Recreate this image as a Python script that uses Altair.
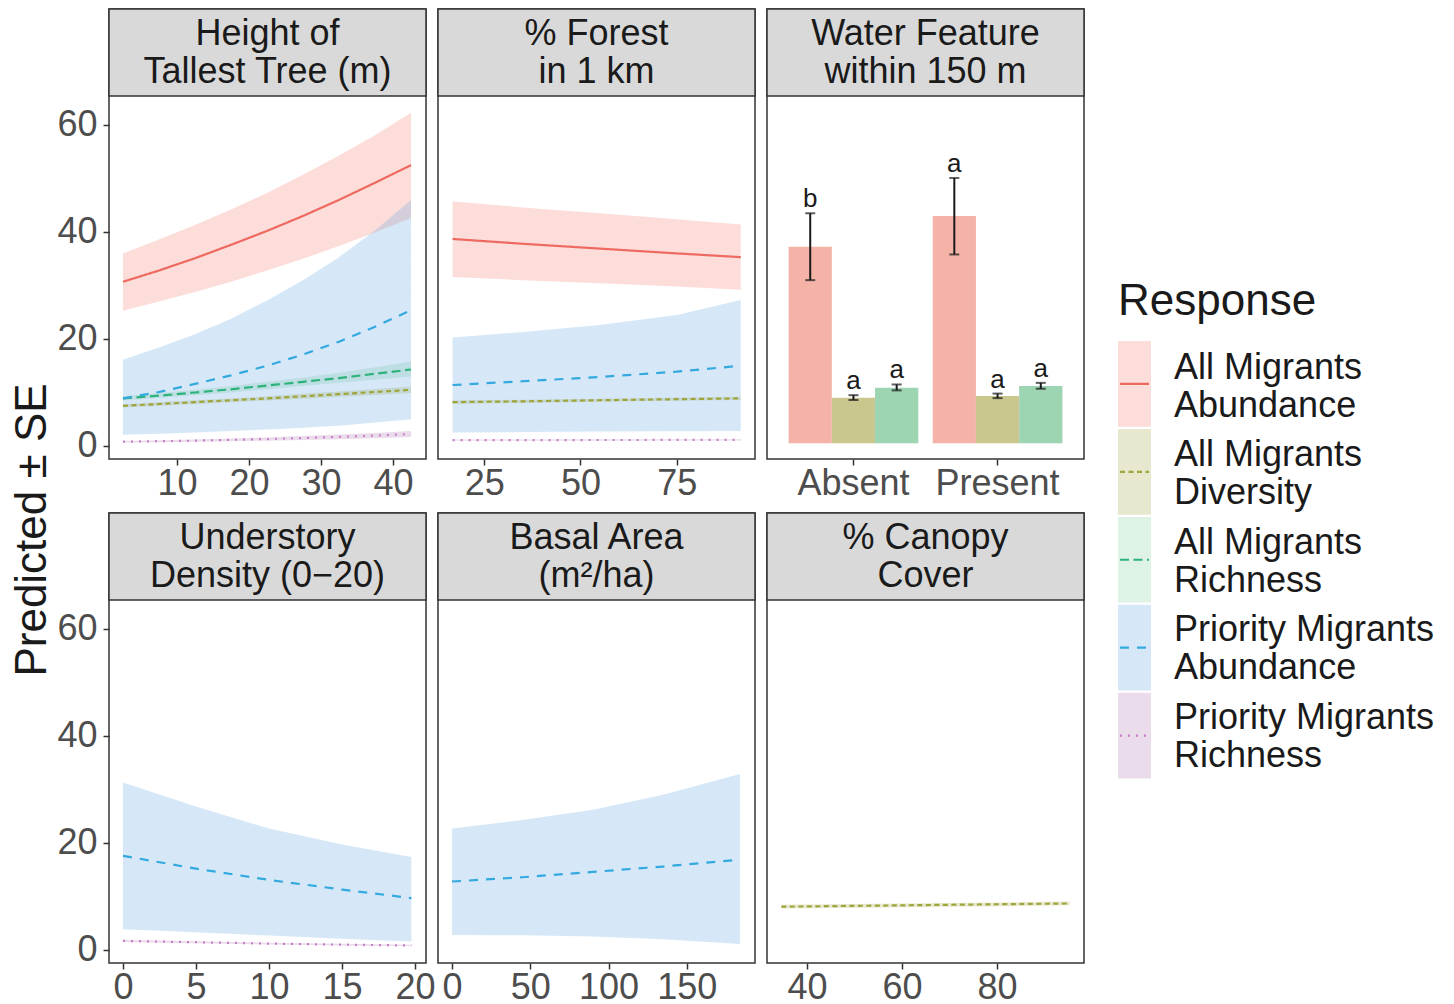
import altair as alt
import pandas as pd

FONT = "Liberation Sans"

SERIES = ["All Migrants Abundance", "All Migrants Diversity", "All Migrants Richness",
          "Priority Migrants Abundance", "Priority Migrants Richness"]
SERIES_LABELS = ["All Migrants\nAbundance", "All Migrants\nDiversity", "All Migrants\nRichness",
                 "Priority Migrants\nAbundance", "Priority Migrants\nRichness"]
LINE_COLORS = ["#EE6A60", "#9FA53A", "#2DB27B", "#33A9DF", "#C97DC8"]
RIBBON_COLORS = ["#F3776A", "#A3A33F", "#7BCB97", "#5BA3DF", "#AF73AF"]
DASHES = [[1, 0], [5, 3.5], [9, 4.5], [9, 8], [2, 6]]
BAR_COLORS = ["#F5B3A7", "#C9C78D", "#9DD4B2"]

PANEL_TITLES = ["Height of\nTallest Tree (m)", "% Forest\nin 1 km", "Water Feature\nwithin 150 m",
                "Understory\nDensity (0\u221220)", "Basal Area\n(m\u00b2/ha)", "% Canopy\nCover"]
Y_TITLE = "Predicted \u00b1 SE"
LEGEND_TITLE = "Response"

Y_DOMAIN = [-2.43, 65.42]
Y_TICKS = [0, 20, 40, 60]

# ---- Panel 1: Height of tallest tree ----
tree_x = [2.5, 7.5, 12.5, 17.5, 22.5, 27.5, 32.5, 37.5, 42.5]
tree_aa_fit = [30.7, 32.8, 35.1, 37.6, 40.2, 43.0, 46.0, 49.2, 52.5]
tree_aa_lo = [25.3, 27.0, 28.8, 30.7, 32.8, 35.0, 37.4, 39.9, 42.6]
tree_aa_hi = [36.0, 38.6, 41.3, 44.2, 47.3, 50.7, 54.3, 58.1, 62.3]
tree_ad_fit = [7.5, 7.85, 8.2, 8.55, 8.9, 9.3, 9.7, 10.1, 10.5]
tree_ad_lo = [7.2, 7.5, 7.85, 8.2, 8.5, 8.85, 9.2, 9.55, 9.9]
tree_ad_hi = [7.8, 8.2, 8.55, 8.9, 9.3, 9.75, 10.2, 10.65, 11.1]
tree_ar_fit = [8.9, 9.4, 10.0, 10.6, 11.3, 12.0, 12.7, 13.5, 14.3]
tree_ar_lo = [8.5, 9.0, 9.5, 10.0, 10.6, 11.2, 11.8, 12.4, 13.0]
tree_ar_hi = [9.3, 9.9, 10.5, 11.2, 12.0, 12.8, 13.7, 14.7, 15.8]
tree_pa_fit = [8.9, 10.1, 11.6, 13.2, 15.0, 17.1, 19.5, 22.3, 25.4]
tree_pa_lo = [2.1, 2.3, 2.5, 2.8, 3.1, 3.4, 3.8, 4.4, 5.0]
tree_pa_hi = [16.1, 18.4, 20.9, 23.8, 27.2, 31.0, 35.3, 40.3, 46.0]
tree_pr_fit = [0.8, 0.9, 1.0, 1.15, 1.3, 1.5, 1.7, 1.95, 2.25]
tree_pr_lo = [0.65, 0.72, 0.8, 0.9, 1.0, 1.12, 1.26, 1.45, 1.7]
tree_pr_hi = [0.95, 1.08, 1.2, 1.4, 1.6, 1.88, 2.15, 2.45, 2.8]

# ---- Panel 2: % forest in 1 km ----
forest_x = [16.8, 35, 55, 75, 91.6]
forest_aa_fit = [38.7, 37.8, 36.9, 36.0, 35.3]
forest_aa_lo = [31.6, 31.0, 30.4, 29.8, 29.2]
forest_aa_hi = [45.7, 44.6, 43.5, 42.4, 41.4]
forest_ad_fit = [8.2, 8.35, 8.55, 8.75, 8.9]
forest_ad_lo = [7.9, 8.05, 8.25, 8.45, 8.6]
forest_ad_hi = [8.5, 8.65, 8.85, 9.05, 9.2]
forest_pa_fit = [11.4, 12.1, 12.9, 13.9, 15.0]
forest_pa_lo = [2.5, 2.6, 2.7, 2.75, 2.8]
forest_pa_hi = [20.3, 21.3, 22.6, 24.5, 27.3]
forest_pr_fit = [1.1, 1.1, 1.12, 1.13, 1.15]
forest_pr_lo = [0.98, 0.98, 1.0, 1.01, 1.03]
forest_pr_hi = [1.22, 1.22, 1.24, 1.25, 1.27]

# ---- Panel 3: water feature (bars) ----
water_levels = ["Absent", "Present"]
water_aa_mean = [37.25, 43.0]
water_aa_lo = [31.0, 35.8]
water_aa_hi = [43.5, 50.1]
water_aa_letter = ["b", "a"]
water_ad_mean = [9.03, 9.35]
water_ad_lo = [8.6, 8.95]
water_ad_hi = [9.5, 9.8]
water_ad_letter = ["a", "a"]
water_ar_mean = [10.9, 11.2]
water_ar_lo = [10.4, 10.7]
water_ar_hi = [11.5, 11.8]
water_ar_letter = ["a", "a"]
bar_base = 0.5

# ---- Panel 4: understory density ----
under_x = [0, 5, 10, 15, 19.75]
under_pa_fit = [17.6, 15.2, 13.1, 11.3, 9.7]
under_pa_lo = [3.9, 3.3, 2.7, 2.1, 1.6]
under_pa_hi = [31.3, 26.8, 22.7, 19.7, 17.4]
under_pr_fit = [1.7, 1.45, 1.2, 1.0, 0.85]
under_pr_lo = [1.5, 1.28, 1.05, 0.85, 0.7]
under_pr_hi = [1.9, 1.62, 1.35, 1.15, 1.0]

# ---- Panel 5: basal area ----
basal_x = [0, 45, 90, 135, 184]
basal_pa_fit = [12.8, 13.6, 14.6, 15.6, 16.9]
basal_pa_lo = [2.8, 2.75, 2.5, 2.0, 1.1]
basal_pa_hi = [22.7, 24.3, 26.2, 29.0, 32.9]

# ---- Panel 6: % canopy cover ----
canopy_x = [34.6, 50, 65, 80, 95.3]
canopy_ad_fit = [8.1, 8.25, 8.4, 8.55, 8.7]
canopy_ad_lo = [7.75, 7.9, 8.05, 8.2, 8.35]
canopy_ad_hi = [8.45, 8.6, 8.75, 8.9, 9.05]

PANEL_W = 317
HEADER_H = 87
PLOT_H = 363
FULL_H = HEADER_H + PLOT_H
TICK_FONT = 36
LINE_H = 38


def long_df(x, parts):
    rows = []
    for name, fit, lo, hi in parts:
        for xi, f, l, h in zip(x, fit, lo, hi):
            rows.append({"x": xi, "series": name, "fit": f, "lo": l, "hi": h})
    return pd.DataFrame(rows)


# y data scale occupies the area under the strip header
yscale = alt.Scale(domain=Y_DOMAIN, nice=False, zero=False, range=[FULL_H, HEADER_H])


def y_axis(show):
    if show:
        return alt.Axis(values=Y_TICKS, title=None, labelPadding=6)
    return None


def header_layers(title):
    hdf = pd.DataFrame({"t": [title]})
    box = alt.Chart(hdf).mark_rect(fill="#D9D9D9", stroke="#333333", strokeWidth=1.5).encode(
        x=alt.value(0), x2=alt.value(PANEL_W), y=alt.value(0), y2=alt.value(HEADER_H))
    txt = alt.Chart(hdf).mark_text(
        font=FONT, fontSize=36, lineBreak="\n", lineHeight=LINE_H, color="#1A1A1A",
        align="center", baseline="middle"
    ).encode(x=alt.value(PANEL_W / 2), y=alt.value(HEADER_H / 2 - 19), text="t:N")
    return [box, txt]


def line_panel(df, title, xdomain, xticks, show_y, extra=None):
    xenc = alt.X("x:Q", scale=alt.Scale(domain=xdomain, nice=False, zero=False),
                 axis=alt.Axis(values=xticks, title=None, labelPadding=1, labelFlush=False))
    ribbon = alt.Chart(df).mark_area(opacity=0.25).encode(
        x=xenc,
        y=alt.Y("lo:Q", scale=yscale, axis=y_axis(show_y), stack=False),
        y2="hi:Q",
        fill=alt.Fill("series:N", scale=alt.Scale(domain=SERIES, range=RIBBON_COLORS), legend=None),
    )
    line = alt.Chart(df).mark_line(strokeWidth=2.2).encode(
        x=xenc,
        y=alt.Y("fit:Q", scale=yscale),
        color=alt.Color("series:N", scale=alt.Scale(domain=SERIES, range=LINE_COLORS), legend=None),
        strokeDash=alt.StrokeDash("series:N", scale=alt.Scale(domain=SERIES, range=DASHES), legend=None),
    )
    layers = [ribbon, line] + header_layers(title)
    if extra is not None:
        layers += extra
    return alt.layer(*layers).properties(width=PANEL_W, height=FULL_H)


def legend_layers():
    leg_df = pd.DataFrame({"series": SERIES, "label": SERIES_LABELS})
    leg_scale = alt.Scale(domain=SERIES, range=[332, 769.5], paddingInner=0.025, paddingOuter=0)
    x0 = 351
    keys = alt.Chart(leg_df).mark_rect(opacity=0.25).encode(
        x=alt.value(x0), x2=alt.value(x0 + 33),
        y=alt.Y("series:N", scale=leg_scale, axis=None),
        fill=alt.Fill("series:N", scale=alt.Scale(domain=SERIES, range=RIBBON_COLORS), legend=None),
    )
    lines = alt.Chart(leg_df).mark_rule(strokeWidth=2.2).encode(
        x=alt.value(x0 + 2), x2=alt.value(x0 + 31),
        y=alt.Y("series:N", scale=leg_scale, axis=None, bandPosition=0.5),
        color=alt.Color("series:N", scale=alt.Scale(domain=SERIES, range=LINE_COLORS), legend=None),
        strokeDash=alt.StrokeDash("series:N", scale=alt.Scale(domain=SERIES, range=DASHES), legend=None),
    )
    text = alt.Chart(leg_df).mark_text(
        font=FONT, fontSize=36, lineBreak="\n", lineHeight=LINE_H, color="#1A1A1A",
        align="left", baseline="middle", dy=-17
    ).encode(
        x=alt.value(x0 + 56),
        y=alt.Y("series:N", scale=leg_scale, axis=None, bandPosition=0.5),
        text="label:N",
    )
    title = alt.Chart(pd.DataFrame({"t": [LEGEND_TITLE]})).mark_text(
        font=FONT, fontSize=44, color="#1A1A1A", align="left", baseline="middle"
    ).encode(x=alt.value(x0), y=alt.value(293), text="t:N")
    return [keys, lines, text, title]


def bar_panel(title):
    rows = []
    for name, mean, lo, hi, let in [
        (SERIES[0], water_aa_mean, water_aa_lo, water_aa_hi, water_aa_letter),
        (SERIES[1], water_ad_mean, water_ad_lo, water_ad_hi, water_ad_letter),
        (SERIES[2], water_ar_mean, water_ar_lo, water_ar_hi, water_ar_letter),
    ]:
        for w, m, l, h, t in zip(water_levels, mean, lo, hi, let):
            rows.append({"water": w, "series": name, "mean": m, "lo": l, "hi": h,
                         "letter": t, "base": bar_base})
    df = pd.DataFrame(rows)
    xenc = alt.X("water:N", scale=alt.Scale(domain=water_levels, paddingInner=0.1, paddingOuter=0.15),
                 axis=alt.Axis(title=None, labelAngle=0, labelPadding=1))
    xoff = alt.XOffset("series:N", scale=alt.Scale(domain=SERIES[:3], paddingInner=0, paddingOuter=0))
    base = alt.Chart(df)
    bars = base.mark_bar().encode(
        x=xenc, xOffset=xoff,
        y=alt.Y("mean:Q", scale=yscale, axis=None),
        y2="base:Q",
        fill=alt.Fill("series:N", scale=alt.Scale(domain=SERIES[:3], range=BAR_COLORS), legend=None),
    )
    err = base.mark_rule(color="#1A1A1A", strokeWidth=2).encode(
        x=xenc, xOffset=xoff, y=alt.Y("lo:Q", scale=yscale, axis=None), y2="hi:Q")
    cap_lo = base.mark_tick(color="#1A1A1A", thickness=2, size=10).encode(
        x=xenc, xOffset=xoff, y=alt.Y("lo:Q", scale=yscale, axis=None))
    cap_hi = base.mark_tick(color="#1A1A1A", thickness=2, size=10).encode(
        x=xenc, xOffset=xoff, y=alt.Y("hi:Q", scale=yscale, axis=None))
    letters = base.mark_text(font=FONT, fontSize=26, color="#1A1A1A", baseline="alphabetic", dy=-6).encode(
        x=xenc, xOffset=xoff, y=alt.Y("hi:Q", scale=yscale, axis=None), text="letter:N")
    layers = [bars, err, cap_lo, cap_hi, letters] + header_layers(title) + legend_layers()
    return alt.layer(*layers).resolve_scale(y="independent", fill="independent").properties(
        width=PANEL_W, height=FULL_H)


df1 = long_df(tree_x, [
    (SERIES[0], tree_aa_fit, tree_aa_lo, tree_aa_hi),
    (SERIES[1], tree_ad_fit, tree_ad_lo, tree_ad_hi),
    (SERIES[2], tree_ar_fit, tree_ar_lo, tree_ar_hi),
    (SERIES[3], tree_pa_fit, tree_pa_lo, tree_pa_hi),
    (SERIES[4], tree_pr_fit, tree_pr_lo, tree_pr_hi),
])
df2 = long_df(forest_x, [
    (SERIES[0], forest_aa_fit, forest_aa_lo, forest_aa_hi),
    (SERIES[1], forest_ad_fit, forest_ad_lo, forest_ad_hi),
    (SERIES[3], forest_pa_fit, forest_pa_lo, forest_pa_hi),
    (SERIES[4], forest_pr_fit, forest_pr_lo, forest_pr_hi),
])
df4 = long_df(under_x, [
    (SERIES[3], under_pa_fit, under_pa_lo, under_pa_hi),
    (SERIES[4], under_pr_fit, under_pr_lo, under_pr_hi),
])
df5 = long_df(basal_x, [(SERIES[3], basal_pa_fit, basal_pa_lo, basal_pa_hi)])
df6 = long_df(canopy_x, [(SERIES[1], canopy_ad_fit, canopy_ad_lo, canopy_ad_hi)])

ytitle = alt.Chart(pd.DataFrame({"t": [Y_TITLE]})).mark_text(
    font=FONT, fontSize=44, angle=270, color="#1A1A1A", align="center", baseline="middle"
).encode(x=alt.value(-76), y=alt.value(521), text="t:N")

p1 = line_panel(df1, PANEL_TITLES[0], [0.56, 44.58], [10, 20, 30, 40], True, extra=[ytitle])
p2 = line_panel(df2, PANEL_TITLES[1], [13.02, 95.3], [25, 50, 75], False)
p3 = bar_panel(PANEL_TITLES[2])
p4 = line_panel(df4, PANEL_TITLES[3], [-0.96, 20.75], [0, 5, 10, 15, 20], True)
p5 = line_panel(df5, PANEL_TITLES[4], [-8.97, 193.6], [0, 50, 100, 150], False)
p6 = line_panel(df6, PANEL_TITLES[5], [31.58, 98.3], [40, 60, 80], False)

chart = alt.concat(p1, p2, p3, p4, p5, p6, columns=3, spacing={"row": 54, "column": 12},
                   bounds="flush").properties(
    padding={"left": 10, "top": 7, "right": 0, "bottom": 0}
).configure(font=FONT).configure_view(
    stroke="#333333", strokeWidth=1.5
).configure_axis(
    domain=False, grid=False, tickColor="#333333", tickWidth=1.5, tickSize=6,
    labelFont=FONT, labelFontSize=TICK_FONT, labelColor="#4D4D4D"
)

chart.save("out.html", embed_options={"renderer": "svg", "actions": False})
